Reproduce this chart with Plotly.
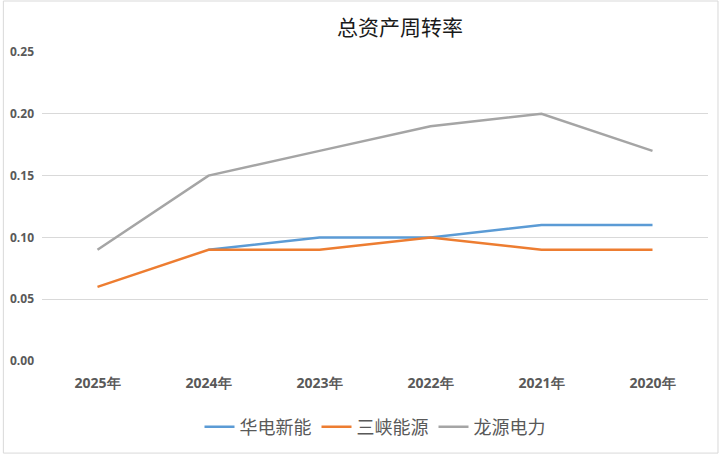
import plotly.graph_objects as go

years = ["2025年", "2024年", "2023年", "2022年", "2021年", "2020年"]
huadian = [None, 0.09, 0.10, 0.10, 0.11, 0.11]
sanxia = [0.06, 0.09, 0.09, 0.10, 0.09, 0.09]
longyuan = [0.09, 0.15, 0.17, 0.19, 0.20, 0.17]
y_ticks = [0.00, 0.05, 0.10, 0.15, 0.20, 0.25]

fig = go.Figure()
fig.add_trace(go.Scatter(x=years, y=huadian, mode="lines", name="华电新能",
                         line=dict(color="#5B9BD5", width=2.5)))
fig.add_trace(go.Scatter(x=years, y=sanxia, mode="lines", name="三峡能源",
                         line=dict(color="#ED7D31", width=2.5)))
fig.add_trace(go.Scatter(x=years, y=longyuan, mode="lines", name="龙源电力",
                         line=dict(color="#A5A5A5", width=2.5)))

fig.update_layout(
    width=720, height=455,
    margin=dict(l=42, r=12, t=52, b=94, autoexpand=False),
    paper_bgcolor="white", plot_bgcolor="white",
    title=dict(text="总资产周转率", x=0.5375, xanchor="center", xref="paper",
               y=0.94, yanchor="middle",
               font=dict(family="Noto Sans CJK SC", size=21, color="#1a1a1a")),
    xaxis=dict(type="category", range=[-0.5, 5.5], showgrid=False, showline=False,
               automargin=False, ticks="", ticklabelstandoff=12,
               tickfont=dict(family="Open Sans", size=14, color="#595959", weight="bold")),
    yaxis=dict(range=[0, 0.25], tickvals=y_ticks, tickformat=".2f", automargin=False,
               showgrid=True, gridcolor="#D9D9D9", gridwidth=1, zeroline=False,
               ticks="", showline=False, ticklabelstandoff=7,
               tickfont=dict(family="Open Sans", size=12, color="#595959", weight="bold")),
    legend=dict(orientation="h", x=0.5, xanchor="center", y=-0.214, yanchor="middle",
                font=dict(family="Noto Sans CJK SC", size=18, color="#595959"),
                tracegroupgap=0),
    showlegend=True,
)
fig.add_shape(type="rect", xref="paper", yref="paper", x0=-0.058, x1=1.015, y0=-0.298, y1=1.165,
              line=dict(color="#D9D9D9", width=1), fillcolor="rgba(0,0,0,0)", layer="below")

fig.write_html("out.html", config={"displayModeBar": False},
               post_script="document.body.style.margin='0';")
